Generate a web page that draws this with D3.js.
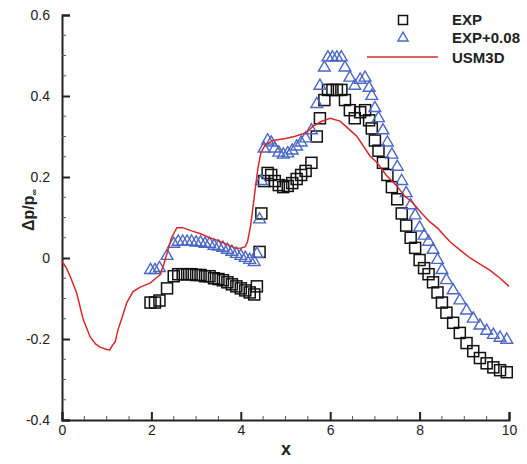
<!DOCTYPE html>
<html><head><meta charset="utf-8">
<script src="https://cdn.jsdelivr.net/npm/d3@7"></script>
<style>body{margin:0;background:#fff;} svg{display:block;}</style>
</head><body><svg id="c" width="527" height="464"></svg>
<script>
const expX = [1.98,2.08,2.18,2.35,2.5,2.6,2.7,2.8,2.9,3.0,3.1,3.2,3.3,3.4,3.5,3.6,3.7,3.8,3.9,4.0,4.1,4.2,4.3,4.36,4.42,4.46,4.52,4.6,4.68,4.76,4.85,4.95,5.05,5.15,5.25,5.35,5.45,5.58,5.7,5.77,5.87,5.95,6.05,6.15,6.25,6.33,6.44,6.55,6.67,6.78,6.87,6.93,7.0,7.08,7.18,7.28,7.38,7.5,7.6,7.7,7.8,7.9,8.0,8.1,8.2,8.3,8.4,8.5,8.6,8.75,8.9,9.05,9.2,9.35,9.5,9.65,9.8,9.95];
const expY = [-0.11,-0.11,-0.105,-0.075,-0.045,-0.04,-0.04,-0.04,-0.04,-0.042,-0.042,-0.045,-0.045,-0.05,-0.052,-0.055,-0.06,-0.065,-0.07,-0.075,-0.08,-0.085,-0.09,-0.07,0.015,0.11,0.19,0.21,0.205,0.19,0.18,0.175,0.178,0.185,0.195,0.205,0.215,0.235,0.3,0.345,0.39,0.415,0.415,0.415,0.415,0.39,0.365,0.345,0.36,0.365,0.34,0.32,0.29,0.265,0.235,0.205,0.175,0.145,0.11,0.08,0.05,0.025,-0.005,-0.025,-0.04,-0.06,-0.085,-0.11,-0.135,-0.16,-0.185,-0.21,-0.23,-0.247,-0.26,-0.27,-0.277,-0.282];
const expPlusY = [-0.03,-0.03,-0.025,0.005,0.035,0.04,0.04,0.04,0.04,0.038,0.038,0.035,0.035,0.03,0.028,0.025,0.02,0.015,0.01,0.005,0.0,-0.005,-0.01,0.01,0.095,0.19,0.27,0.29,0.285,0.27,0.26,0.255,0.258,0.265,0.275,0.285,0.295,0.315,0.38,0.425,0.47,0.495,0.495,0.495,0.495,0.47,0.445,0.425,0.44,0.445,0.42,0.4,0.37,0.345,0.315,0.285,0.255,0.225,0.19,0.16,0.13,0.105,0.075,0.055,0.04,0.02,-0.005,-0.03,-0.055,-0.08,-0.105,-0.13,-0.15,-0.167,-0.18,-0.19,-0.197,-0.202];
const usmX = [0,0.1,0.2,0.33,0.47,0.63,0.75,0.85,1.0,1.07,1.13,1.19,1.25,1.35,1.45,1.59,1.75,1.97,2.1,2.19,2.28,2.35,2.45,2.57,2.7,2.9,3.1,3.3,3.5,3.7,3.87,4.0,4.1,4.15,4.22,4.3,4.38,4.45,4.55,4.72,5.0,5.2,5.48,5.62,5.8,6.0,6.22,6.4,6.6,6.89,7.05,7.25,7.49,7.65,7.85,8.05,8.23,8.39,8.68,8.9,9.13,9.35,9.57,9.8,10.0];
const usmY = [-0.008,-0.025,-0.05,-0.087,-0.15,-0.195,-0.212,-0.22,-0.226,-0.227,-0.215,-0.207,-0.178,-0.145,-0.11,-0.083,-0.072,-0.062,-0.05,-0.042,-0.015,0.012,0.05,0.075,0.075,0.067,0.06,0.05,0.043,0.033,0.025,0.024,0.028,0.04,0.08,0.15,0.22,0.26,0.28,0.29,0.295,0.3,0.31,0.326,0.337,0.345,0.338,0.32,0.3,0.252,0.235,0.205,0.178,0.155,0.136,0.11,0.089,0.075,0.04,0.02,0.0,-0.015,-0.03,-0.05,-0.07];
const xTicks = [0,2,4,6,8,10];
const yTicks = [-0.4,-0.2,0,0.2,0.4,0.6];
const yTickLabels = ["-0.4","-0.2","0","0.2","0.4","0.6"];
const legendLabels = ["EXP","EXP+0.08","USM3D"];

const svg = d3.select("#c");
const x = d3.scaleLinear().domain([0,10]).range([62,509]);
const y = d3.scaleLinear().domain([-0.4,0.6]).range([420,15]);
const font = "'Liberation Sans', Arial, Helvetica, sans-serif";
const blue = "#4a68c4", red = "#d8282c";

// axes
const xAxis = d3.axisBottom(x).tickValues(xTicks).tickSize(-8).tickPadding(5).tickFormat(d3.format("d"));
const gx = svg.append("g").attr("transform","translate(0,420)").call(xAxis);
const yAxis = d3.axisLeft(y).tickValues(yTicks).tickSize(-8).tickPadding(12).tickFormat((d,i)=>yTickLabels[i]);
const gy = svg.append("g").attr("transform","translate(62,0)").call(yAxis);
[gx,gy].forEach(g=>{
  g.select(".domain").attr("stroke","#222").attr("stroke-width",2);
  g.selectAll(".tick line").attr("stroke","#222").attr("stroke-width",2);
  g.selectAll(".tick text").attr("font-family",font).attr("font-size",14).attr("fill","#222");
});
// minor ticks
const xMinor = d3.range(0,10.01,0.5).filter(v=>Math.abs(v%2)>1e-6);
svg.append("g").selectAll("line").data(xMinor).join("line")
  .attr("x1",d=>x(d)).attr("x2",d=>x(d)).attr("y1",420).attr("y2",416)
  .attr("stroke","#555").attr("stroke-width",1);
const yMinor = d3.range(-0.4,0.601,0.05).filter(v=>Math.abs(Math.round(v*5)-v*5)>1e-6);
svg.append("g").selectAll("line").data(yMinor).join("line")
  .attr("x1",62).attr("x2",66).attr("y1",d=>y(d)).attr("y2",d=>y(d))
  .attr("stroke","#555").attr("stroke-width",1);

// axis titles
svg.append("text").attr("x",286).attr("y",455).attr("text-anchor","middle")
  .attr("font-family",font).attr("font-weight","bold").attr("font-size",18).attr("fill","#222").text("x");
const yt = svg.append("text").attr("transform","translate(34,210) rotate(-90)").attr("text-anchor","middle")
  .attr("font-family",font).attr("font-weight","bold").attr("font-size",16).attr("fill","#222");
yt.append("tspan").text("Δp/p");
yt.append("tspan").attr("font-size",9).attr("dy",3).text("∞");

// squares
const sq = 11;
svg.append("g").selectAll("rect").data(expX.map((v,i)=>[v,expY[i]])).join("rect")
  .attr("x",d=>x(d[0])-sq/2).attr("y",d=>y(d[1])-sq/2).attr("width",sq).attr("height",sq)
  .attr("fill","none").attr("stroke","#111").attr("stroke-width",1.5);
// triangles
const tri = d3.symbol().type(d3.symbolTriangle).size(60);
svg.append("g").selectAll("path").data(expX.map((v,i)=>[v,expPlusY[i]])).join("path")
  .attr("d",tri).attr("transform",d=>`translate(${x(d[0])},${y(d[1])})`)
  .attr("fill","none").attr("stroke",blue).attr("stroke-width",1.4);
// line
const line = d3.line().x(d=>x(d[0])).y(d=>y(d[1]));
svg.append("path").datum(usmX.map((v,i)=>[v,usmY[i]])).attr("d",line)
  .attr("fill","none").attr("stroke",red).attr("stroke-width",1.5);

// legend
const lg = svg.append("g");
lg.append("rect").attr("x",403-4.5).attr("y",20-4.5).attr("width",9).attr("height",9)
  .attr("fill","none").attr("stroke","#111").attr("stroke-width",1.5);
lg.append("path").attr("d",d3.symbol().type(d3.symbolTriangle).size(45)).attr("transform","translate(403,38)")
  .attr("fill","none").attr("stroke",blue).attr("stroke-width",1.4);
lg.append("line").attr("x1",367).attr("x2",438).attr("y1",57).attr("y2",57).attr("stroke",red).attr("stroke-width",1.5);
lg.selectAll("text").data(legendLabels).join("text")
  .attr("x",452).attr("y",(d,i)=>[25,43,63][i])
  .attr("font-family",font).attr("font-weight","bold").attr("font-size",15).attr("fill","#222").text(d=>d);
</script></body></html>
